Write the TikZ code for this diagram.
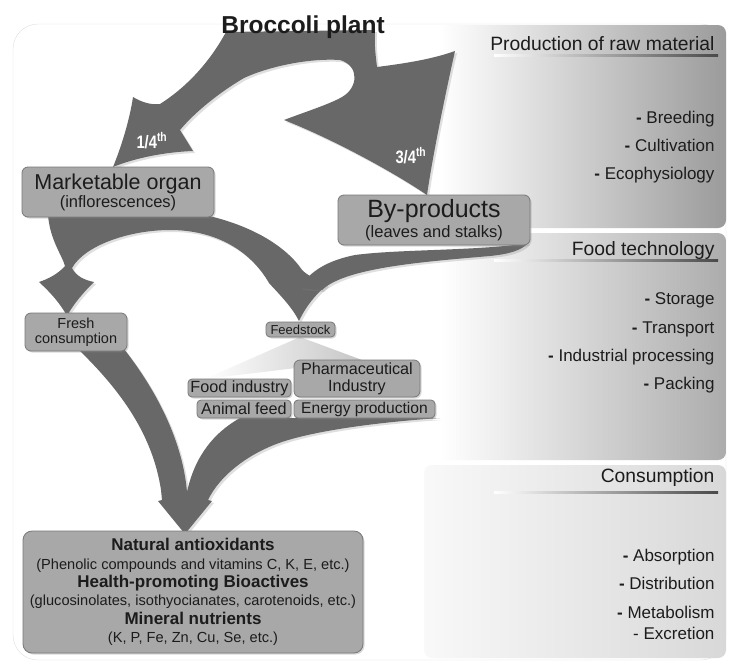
\documentclass[tikz,border=0pt]{standalone}
\usepackage{fontspec}
\setmainfont{Liberation Sans}
\usetikzlibrary{shadows}

\definecolor{flowgray}{RGB}{104,104,104}
\definecolor{boxgray}{RGB}{168,168,168}
\definecolor{boxedge}{RGB}{120,120,120}
\definecolor{ink}{RGB}{28,28,28}
\definecolor{panelA}{RGB}{155,155,155}
\definecolor{panelB}{RGB}{172,172,172}
\definecolor{panelC}{RGB}{216,216,216}

\begin{document}
\begin{tikzpicture}[x=1pt,y=-1pt,
  box/.style={draw=boxedge,fill=boxgray,line width=0.8pt,rounded corners=6pt,
    inner sep=0pt,align=center,text=ink,
    drop shadow={opacity=0.3,shadow xshift=1.5pt,shadow yshift=-1.5pt}},
  flow/.style={fill=flowgray,drop shadow={opacity=0.25,shadow xshift=2pt,shadow yshift=-2pt}},
  stage/.style={anchor=base east,text=ink,font=\fontsize{19.3}{22}\selectfont},
  task/.style={anchor=base east,text=ink,font=\fontsize{17}{20}\selectfont},
  part/.style={anchor=base west,text=white,font=\bfseries\fontsize{18}{18}\selectfont}]

% sheet and the three stage panels
\useasboundingbox (0,0) rectangle (731,662);
\draw[gray!25,fill=white,rounded corners=25pt] (13,24) rectangle (726,660);
\shade[left color=white,right color=panelA,rounded corners=8pt] (440,25) rectangle (726,228);
\shade[left color=white,right color=panelB,rounded corners=8pt] (440,233) rectangle (726,460);
\shade[left color=gray!5,right color=panelC,rounded corners=8pt] (424,465) rectangle (726,658);

% stage headings
\node[stage] (raw) at (718,50) {Production of raw material};
\node[stage] (tech) at (718,255) {Food technology};
\node[stage] (cons) at (718,482) {Consumption};
\shade[left color=white,right color=ink!80] (494,54.5) rectangle (718,56);
\shade[left color=white,right color=ink!80] (494,259.5) rectangle (718,261);
\shade[left color=white,right color=ink!80] (494,491.5) rectangle (718,493);

\foreach \t/\y [count=\i] in {Breeding/123,Cultivation/151,Ecophysiology/179,
    Storage/304,Transport/333,Industrial processing/361,Packing/389,
    Absorption/561,Distribution/589,Metabolism/618}
  \node[task] (task\i) at (718,\y) {\textbf{-} \t};
\node[task] (task11) at (718,639) {- Excretion};

% plant splits in two
\fill[flow] (226,32) -- (375,30)
  .. controls (374,45) and (376,58) .. (377,67)
  .. controls (400,64) and (430,60) .. (455,51)
  .. controls (444,100) and (432,160) .. (427,195)
  .. controls (390,170) and (330,138) .. (284,120)
  .. controls (305,112) and (330,104) .. (342,97)
  .. controls (358,88) and (360,66) .. (340,60)
  .. controls (310,58) and (270,66) .. (244,78)
  .. controls (220,92) and (195,112) .. (180,130)
  .. controls (185,138) and (190,146) .. (193,151)
  .. controls (165,152) and (135,158) .. (113,167)
  .. controls (122,145) and (130,118) .. (133,97)
  .. controls (143,103) and (152,105) .. (160,104)
  .. controls (190,85) and (212,58) .. (226,32) -- cycle;

% marketable organ -> fresh / feedstock
\fill[flow] (48,215)
  .. controls (50,240) and (62,255) .. (65,266)
  .. controls (58,274) and (48,279) .. (39,282)
  .. controls (50,292) and (60,303) .. (67,316)
  .. controls (74,303) and (84,292) .. (94,282)
  .. controls (84,280) and (76,276) .. (72,268)
  .. controls (85,245) and (130,230) .. (170,230)
  .. controls (215,230) and (250,250) .. (269,283)
  .. controls (280,295) and (292,307) .. (299,321)
  .. controls (306,306) and (316,294) .. (327,285)
  .. controls (318,280) and (308,276) .. (302,270)
  .. controls (285,245) and (250,225) .. (205,215) -- cycle;

% by-products -> feedstock
\fill[flow] (528,243)
  .. controls (480,251) and (400,249) .. (355,255)
  .. controls (330,260) and (310,270) .. (300,288)
  -- (322,290)
  .. controls (345,268) and (420,262) .. (490,256)
  .. controls (510,254) and (522,250) .. (528,243) -- cycle;

% fresh and processed flows meet
\fill[flow] (78,349)
  .. controls (115,385) and (152,430) .. (161,490)
  -- (162,500) -- (158,501) -- (185,534) -- (212,501) -- (208,500)
  .. controls (220,475) and (250,452) .. (285,441)
  .. controls (320,430) and (380,422) .. (440,418)
  -- (240,418)
  .. controls (215,432) and (195,455) .. (187,492)
  .. controls (183,445) and (160,395) .. (124,349) -- cycle;

% feedstock fan
\shade[left color=white,right color=gray!45] (300,337) -- (205,379) -- (362,360) -- cycle;

\node[anchor=base,text=ink,font=\bfseries\fontsize{24.5}{26}\selectfont] (plant) at (303,33) {Broccoli plant};
\node[part] (quarter) at (133,148) {\scalebox{0.82}[1]{1/4\textsuperscript{th}}};
\node[part] (rest) at (392,163) {\scalebox{0.82}[1]{3/4\textsuperscript{th}}};

\node[box,minimum width=192pt,minimum height=50pt,font=\fontsize{16.5}{18}\selectfont] (mkt) at (118,192)
  {{\fontsize{21.5}{18}\selectfont Marketable organ}\\(inflorescences)};
\node[box,minimum width=192pt,minimum height=50pt,font=\fontsize{16.5}{20}\selectfont] (byp) at (434,220)
  {{\fontsize{25}{20}\selectfont By-products}\\(leaves and stalks)};
\node[box,minimum width=102pt,minimum height=38pt,font=\fontsize{14.5}{15}\selectfont] (fresh) at (76,332)
  {Fresh\\consumption};
\node[box,rounded corners=4pt,minimum width=69pt,minimum height=15pt,font=\fontsize{13}{15}\selectfont] (feed) at (300.5,329.5)
  {Feedstock};
\node[box,minimum width=126pt,minimum height=37pt,font=\fontsize{16.2}{17}\selectfont] (pharma) at (357,378.5)
  {Pharmaceutical\\Industry};
\node[box,rounded corners=4pt,minimum width=103pt,minimum height=18pt,font=\fontsize{16.2}{17}\selectfont] (food) at (239.5,388)
  {Food industry};
\node[box,rounded corners=4pt,minimum width=94pt,minimum height=18pt,font=\fontsize{16.2}{17}\selectfont] (animal) at (244,409)
  {Animal feed};
\node[box,rounded corners=4pt,minimum width=141pt,minimum height=18pt,font=\fontsize{15.6}{17}\selectfont] (energy) at (364.5,409)
  {Energy production};

\node[box,rounded corners=9pt,minimum width=340pt,minimum height=122pt,font=\fontsize{14.6}{18.4}\selectfont] (nutr) at (193,592)
  {{\bfseries\fontsize{17}{18.4}\selectfont Natural antioxidants}\\
   (Phenolic compounds and vitamins C, K, E, etc.)\\
   {\bfseries\fontsize{17}{18.4}\selectfont Health-promoting Bioactives}\\
   (glucosinolates, isothyocianates, carotenoids, etc.)\\
   {\bfseries\fontsize{17}{18.4}\selectfont Mineral nutrients}\\
   (K, P, Fe, Zn, Cu, Se, etc.)};
\end{tikzpicture}
\end{document}
